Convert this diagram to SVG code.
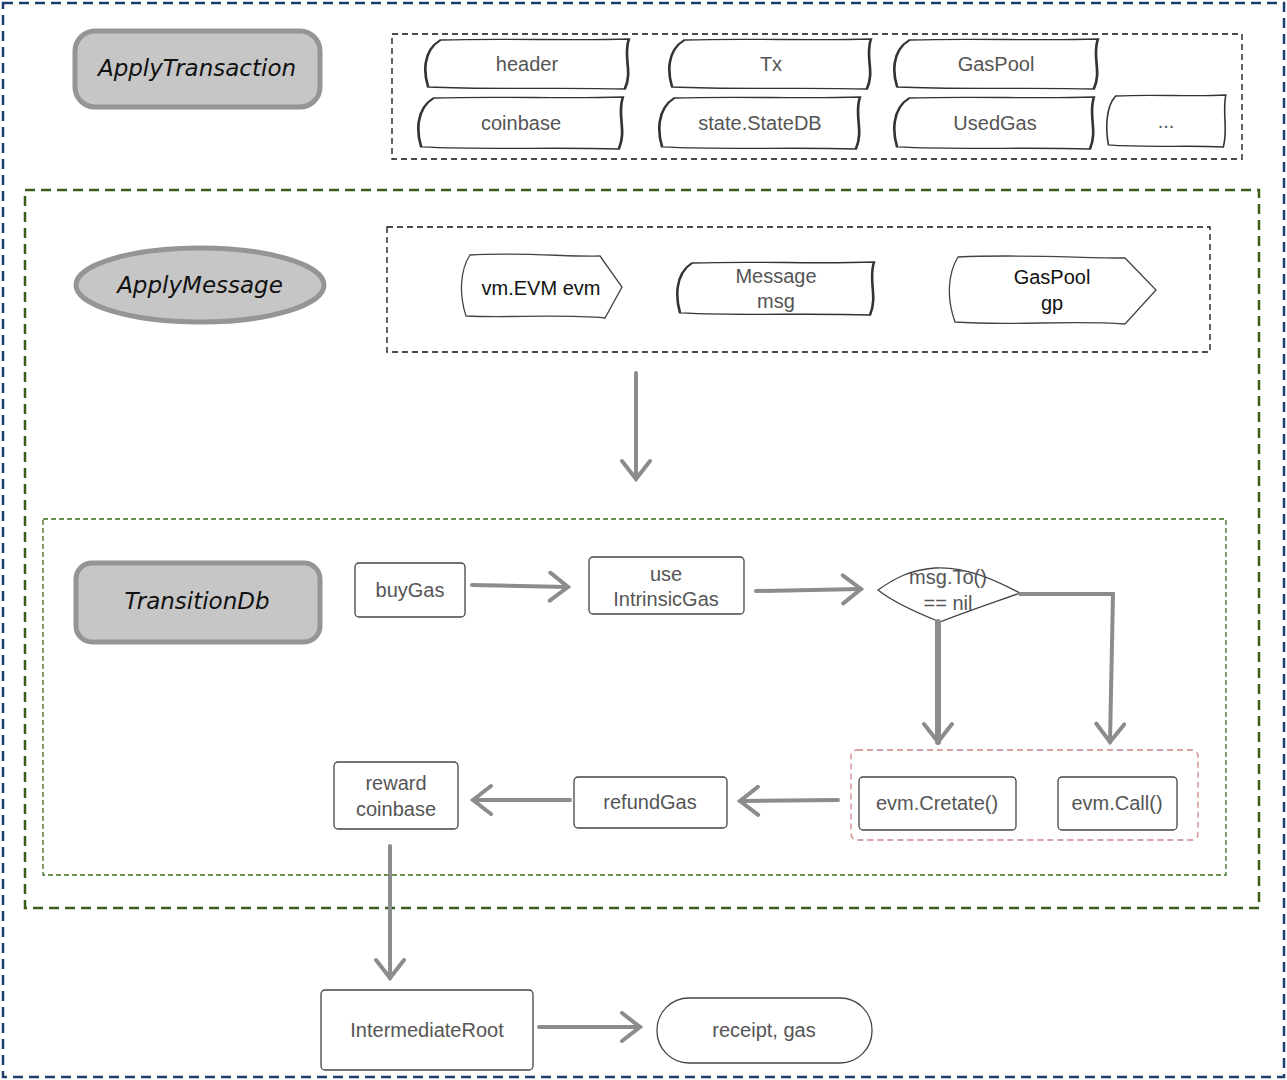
<svg xmlns="http://www.w3.org/2000/svg" width="1287" height="1080" viewBox="0 0 1287 1080">
<style>
.t{font-family:"Liberation Sans",Arial,sans-serif;font-size:20px;fill:#555;text-anchor:middle}
.tb{fill:#111}
.h{font-family:"DejaVu Sans",sans-serif;font-style:italic;font-size:23px;fill:#111;text-anchor:middle}
.g{fill:#c6c6c6;stroke:#959595;stroke-width:5}
.w{fill:#fff;stroke:#333;stroke-width:1.3;vector-effect:non-scaling-stroke}
.b{fill:#fff;stroke:#444;stroke-width:1.3}
.a{fill:none;stroke:#8c8c8c;stroke-width:4;stroke-linecap:round;marker-end:url(#ah)}
</style>
<defs>
<marker id="ah" markerUnits="userSpaceOnUse" markerWidth="30" markerHeight="40" refX="22" refY="16" orient="auto">
<path d="M4,2 L22,16 L4,30" fill="none" stroke="#8c8c8c" stroke-width="4" stroke-linecap="round"/>
</marker>
<path id="wv" d="M8,1 C40,-1 70,2 99,0 C96,18 101,32 97,50 C65,48 35,51 2,48 C0,35 -1,12 8,1 Z"/>
</defs>
<rect width="1287" height="1080" fill="#fff"/>
<!-- frames -->
<g id="frames" fill="none">
<rect x="3" y="3" width="1281" height="1074" stroke="#1d3f6e" stroke-width="2.5" stroke-dasharray="10,6"/>
<rect x="25" y="190" width="1234" height="718" stroke="#3b5d1a" stroke-width="2.5" stroke-dasharray="10,6"/>
<rect x="43" y="519" width="1183" height="356" stroke="#3b6b1a" stroke-width="1.3" stroke-dasharray="5,3"/>
<rect x="392" y="34" width="850" height="125" stroke="#111" stroke-width="1.3" stroke-dasharray="6,4"/>
<rect x="387" y="227" width="823" height="125" stroke="#111" stroke-width="1.3" stroke-dasharray="6,4"/>
<rect x="851" y="750" width="347" height="90" rx="6" stroke="#d08585" stroke-width="1.3" stroke-dasharray="6,4"/>
</g>
<!-- titles -->
<g id="applyTransaction"><rect class="g" x="75" y="31" width="245" height="76" rx="20"/><text class="h" x="197" y="76">ApplyTransaction</text></g>
<g id="applyMessage"><ellipse class="g" cx="200" cy="285" rx="124" ry="37"/><text class="h" x="200" y="293">ApplyMessage</text></g>
<g id="transitionDb"><rect class="g" x="76" y="563" width="244" height="79" rx="16"/><text class="h" x="197" y="609">TransitionDb</text></g>
<!-- top params -->
<g id="header"><use href="#wv" class="w" transform="translate(424,39) scale(2.07,1)"/><text class="t" x="527" y="71">header</text></g>
<g id="tx"><use href="#wv" class="w" transform="translate(668,39) scale(2.05,1)"/><text class="t" x="771" y="71">Tx</text></g>
<g id="gaspool"><use href="#wv" class="w" transform="translate(893,39) scale(2.07,1)"/><text class="t" x="996" y="71">GasPool</text></g>
<g id="coinbase"><use href="#wv" class="w" transform="translate(417,97) scale(2.08,1.04)"/><text class="t" x="521" y="130">coinbase</text></g>
<g id="statedb"><use href="#wv" class="w" transform="translate(658,97) scale(2.04,1.04)"/><text class="t" x="760" y="130">state.StateDB</text></g>
<g id="usedgas"><use href="#wv" class="w" transform="translate(893,97) scale(2.03,1.04)"/><text class="t" x="995" y="130">UsedGas</text></g>
<g id="more"><use href="#wv" class="w" transform="translate(1106,95) scale(1.21,1.04)"/><text class="t" x="1166" y="128">...</text></g>
<!-- message params -->
<g id="vmevm"><path class="b" d="M470,255 C520,252 570,257 600,256 L622,287 L605,318 C560,314 510,318 466,316 C459,295 460,270 470,255 Z"/><text class="t tb" x="541" y="295">vm.EVM evm</text></g>
<g id="message"><use href="#wv" class="w" transform="translate(676,262) scale(2,1.06)"/><text class="t" x="776" y="283">Message</text><text class="t" x="776" y="308">msg</text></g>
<g id="gaspoolgp"><path class="b" d="M958,257 C1020,254 1080,258 1125,258 L1156,290 L1125,324 C1070,320 1010,326 955,322 C947,300 947,275 958,257 Z"/><text class="t tb" x="1052" y="284">GasPool</text><text class="t tb" x="1052" y="310">gp</text></g>
<!-- flow -->
<g id="buyGas"><rect class="b" x="355" y="563" width="110" height="54" rx="4"/><text class="t" x="410" y="597">buyGas</text></g>
<g id="useIntrinsicGas"><rect class="b" x="589" y="557" width="155" height="57" rx="4"/><text class="t" x="666" y="581">use</text><text class="t" x="666" y="606">IntrinsicGas</text></g>
<g id="decision"><path class="b" d="M878,590 C895,578 910,570 935,568 C965,566 995,580 1020,593 C995,602 965,612 940,622 C915,612 893,602 878,590 Z"/><text class="t" x="948" y="584">msg.To()</text><text class="t" x="948" y="610">== nil</text></g>
<g id="evmCreate"><rect class="b" x="859" y="777" width="157" height="53" rx="4"/><text class="t" x="937" y="810">evm.Cretate()</text></g>
<g id="evmCall"><rect class="b" x="1058" y="777" width="119" height="53" rx="4"/><text class="t" x="1117" y="810">evm.Call()</text></g>
<g id="refundGas"><rect class="b" x="574" y="777" width="153" height="51" rx="4"/><text class="t" x="650" y="809">refundGas</text></g>
<g id="rewardCoinbase"><rect class="b" x="334" y="762" width="124" height="67" rx="4"/><text class="t" x="396" y="790">reward</text><text class="t" x="396" y="816">coinbase</text></g>
<g id="intermediateRoot"><rect class="b" x="321" y="990" width="212" height="80" rx="4"/><text class="t" x="427" y="1037">IntermediateRoot</text></g>
<g id="receipt"><rect class="b" x="657" y="998" width="215" height="65" rx="32"/><text class="t" x="764" y="1037">receipt, gas</text></g>
<!-- connectors -->
<g id="connectors">
<path class="a" d="M636,373 L636,479"/>
<path class="a" d="M472,585 L568,587"/>
<path class="a" d="M756,591 L861,589"/>
<path class="a" d="M938,622 L938,742" style="stroke-width:6"/>
<path class="a" d="M1020,594 L1113,594 L1110,742"/>
<path class="a" d="M838,800 L740,801"/>
<path class="a" d="M570,800 L473,800"/>
<path class="a" d="M390,846 L390,978"/>
<path class="a" d="M539,1027 L640,1027"/>
</g>
</svg>
